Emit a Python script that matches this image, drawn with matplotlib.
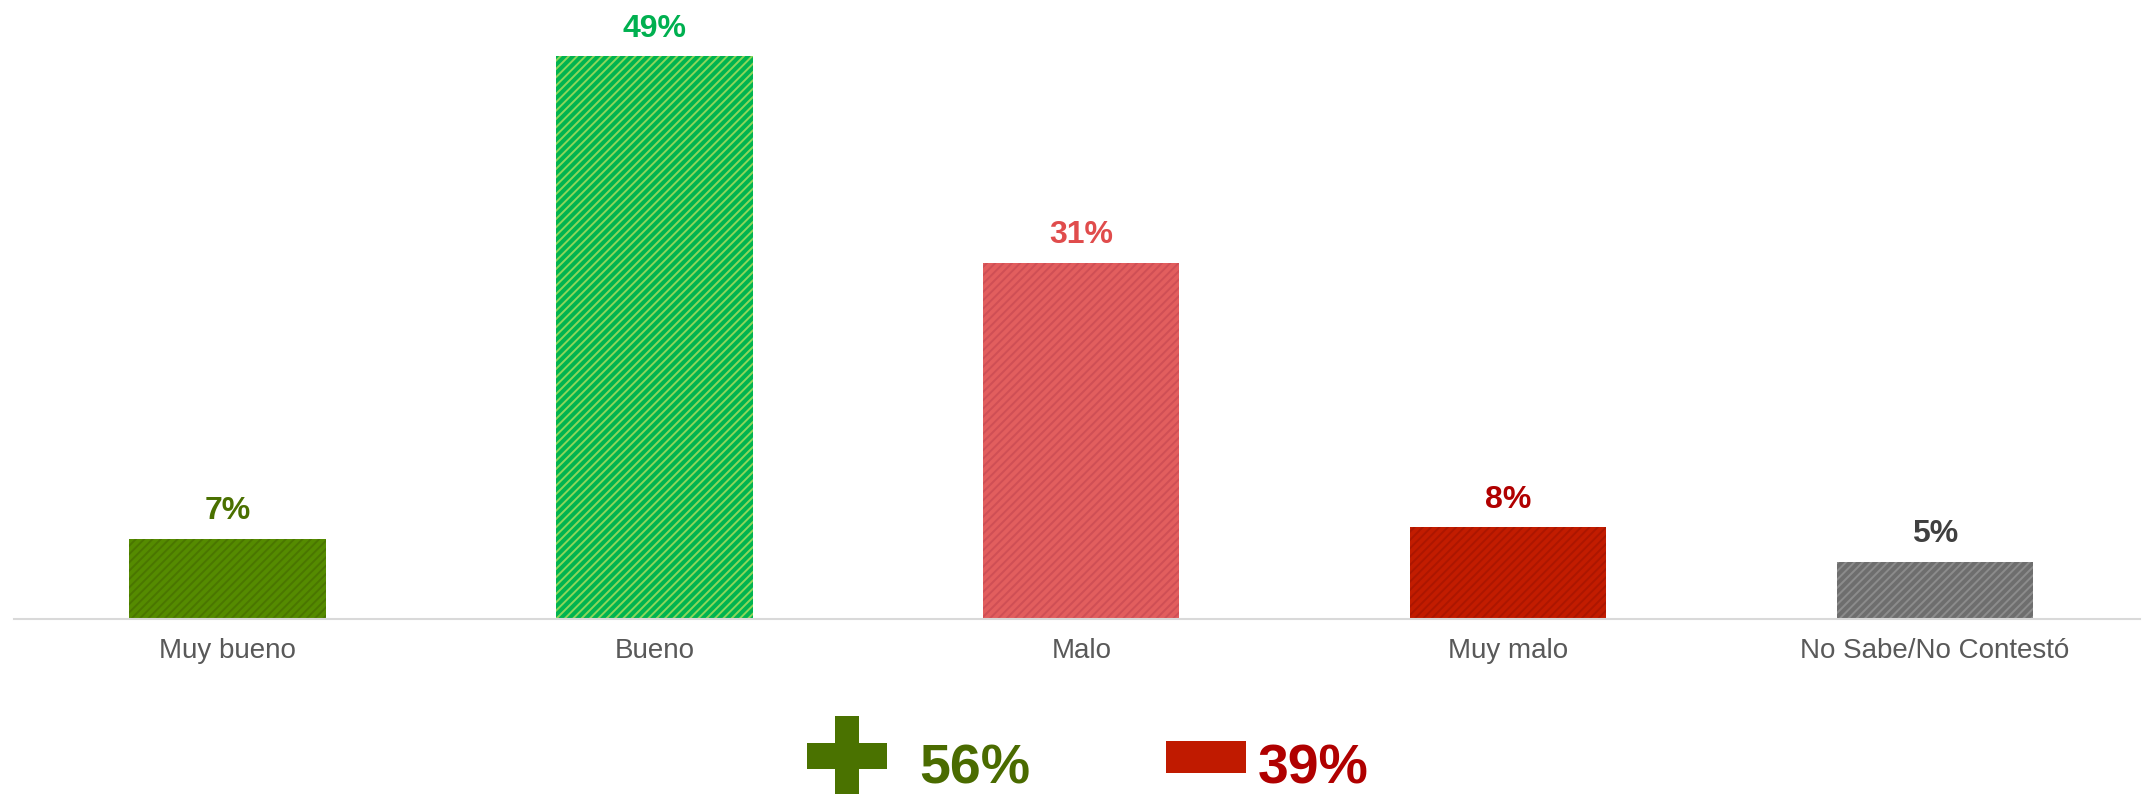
import matplotlib.pyplot as plt
from matplotlib import font_manager
from matplotlib.patches import Rectangle, Polygon

categories = ['Muy bueno', 'Bueno', 'Malo', 'Muy malo', 'No Sabe/No Contestó']
values = [7, 49, 31, 8, 5]
bar_colors = ['#558B00', '#00B450', '#E25E5E', '#C21C00', '#6E6E6E']
hatch_colors = ['#4A7600', '#8CD65A', '#CF4F55', '#AC1600', '#8C8C8C']
label_colors = ['#4A7000', '#00B050', '#E04C4C', '#B00000', '#404040']

summary_labels = ['56%', '39%']
summary_values = [56, 39]

names = {f.name for f in font_manager.fontManager.ttflist}
narrow = 'Liberation Sans Narrow' if 'Liberation Sans Narrow' in names else 'Liberation Sans'
big = 48 if narrow != 'Liberation Sans' else 40

plt.rcParams['font.family'] = ['Liberation Sans', 'DejaVu Sans']
plt.rcParams['hatch.linewidth'] = 1.4

fig = plt.figure(figsize=(21.47, 7.94), dpi=100)
ax = fig.add_axes([14/2147, 1 - 619/794, 2126/2147, 619/794])

x = list(range(len(categories)))
ax.bar(x, values, width=0.46, color=bar_colors, linewidth=0)
hb = ax.bar(x, values, width=0.46, color='none', linewidth=0, hatch='////')
for b, hc in zip(hb, hatch_colors):
    b.set_edgecolor(hc)

for xi, v, c in zip(x, values, label_colors):
    ax.annotate(f'{v}%', (xi, v), xytext=(0, 9), textcoords='offset points',
                ha='center', va='bottom', fontsize=23, fontweight='bold', color=c)

ax.set_xlim(-0.5, 4.48)
ax.set_ylim(0, 53.9)
ax.set_xticks(x)
ax.set_xticklabels(categories, fontsize=20, color='#595959')
ax.tick_params(axis='x', length=0, pad=14)
ax.set_yticks([])
for s in ['top', 'right', 'left']:
    ax.spines[s].set_visible(False)
ax.spines['bottom'].set_color('#D9D9D9')
ax.spines['bottom'].set_linewidth(1.5)

# summary row: plus sign and minus bar
W, H = 2147, 794
def fx(px):
    return px / W
def fy(py):
    return 1 - py / H

cx, cy, arm, half = 847, 756, 12, 40
plus = [(cx - arm, cy - half), (cx + arm, cy - half), (cx + arm, cy - arm - 1),
        (cx + half, cy - arm - 1), (cx + half, cy + arm + 1), (cx + arm, cy + arm + 1),
        (cx + arm, cy + half), (cx - arm, cy + half), (cx - arm, cy + arm + 1),
        (cx - half, cy + arm + 1), (cx - half, cy - arm - 1), (cx - arm, cy - arm - 1)]
fig.patches.append(Polygon([(fx(a), fy(b)) for a, b in plus], closed=True,
                           transform=fig.transFigure, facecolor='#4A7200', edgecolor='none'))
fig.patches.append(Rectangle((fx(1166), fy(773)), fx(1246) - fx(1166), fy(741) - fy(773),
                             transform=fig.transFigure, facecolor='#C01A00', edgecolor='none'))

fig.text(fx(919), fy(784), summary_labels[0], fontsize=big,
         fontweight='bold', color='#4A6B00', family=narrow, ha='left', va='baseline')
fig.text(fx(1258), fy(784), summary_labels[1], fontsize=big,
         fontweight='bold', color='#B00000', family=narrow, ha='left', va='baseline')

fig.savefig('out.png', dpi=100, facecolor='white')
